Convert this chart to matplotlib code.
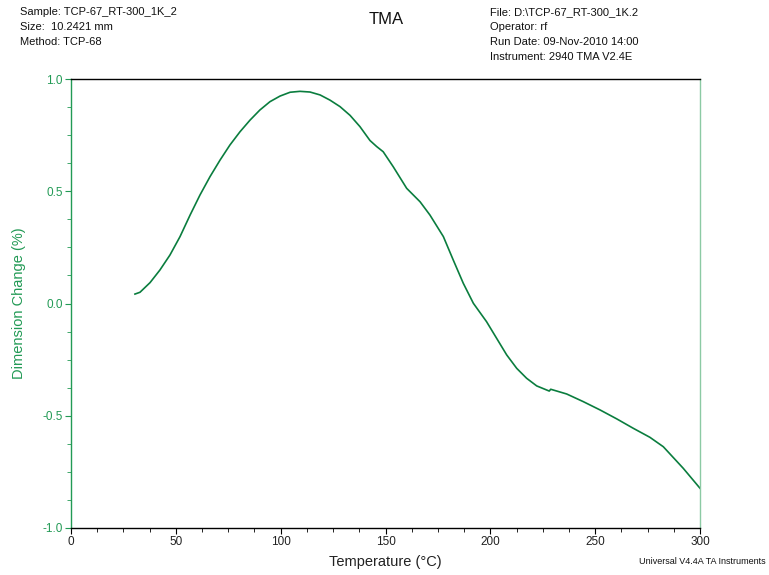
import matplotlib
matplotlib.use("Agg")
import matplotlib.pyplot as plt
from matplotlib.ticker import MultipleLocator

plt.rcParams['font.family'] = ['Liberation Sans', 'DejaVu Sans']

temperature = [30.5, 32.9, 37.7, 42.4, 47.2, 52.0, 56.8, 61.5, 66.3, 71.1, 75.8, 80.6,
               85.4, 90.1, 94.9, 99.7, 104.5, 109.2, 114.0, 118.8, 123.5, 128.3, 133.1,
               137.8, 142.6, 145.8, 148.9, 153.7, 160.1, 166.5, 171.2, 177.6, 182.3,
               187.1, 191.9, 198.2, 203.0, 207.8, 212.6, 217.3, 222.1, 228.1, 228.8,
               236.4, 244.3, 252.3, 260.3, 268.2, 276.1, 282.5, 292.0, 300.0]
dim_change = [0.042, 0.050, 0.093, 0.149, 0.216, 0.298, 0.394, 0.483, 0.565, 0.639, 0.706,
              0.765, 0.817, 0.862, 0.899, 0.924, 0.941, 0.945, 0.942, 0.929, 0.906, 0.877,
              0.838, 0.788, 0.726, 0.699, 0.676, 0.609, 0.513, 0.453, 0.394, 0.298, 0.194,
              0.090, 0.001, -0.081, -0.155, -0.229, -0.289, -0.333, -0.367, -0.390, -0.382,
              -0.403, -0.437, -0.474, -0.514, -0.556, -0.596, -0.638, -0.734, -0.823]

header_left = ["Sample: TCP-67_RT-300_1K_2", "Size:  10.2421 mm", "Method: TCP-68"]
header_right = ["File: D:\\TCP-67_RT-300_1K.2", "Operator: rf",
                "Run Date: 09-Nov-2010 14:00", "Instrument: 2940 TMA V2.4E"]

green_line = '#0a7d3e'
green_text = '#229a55'

W, H = 769, 575
fig = plt.figure(figsize=(W / 100, H / 100), dpi=100)
ax = fig.add_axes([71 / W, 1 - 528 / H, (700 - 71) / W, (528 - 79) / H])

ax.plot(temperature, dim_change, color=green_line, lw=1.2)

ax.set_xlim(0, 300)
ax.set_ylim(-1.0, 1.0)
ax.xaxis.set_major_locator(MultipleLocator(50))
ax.xaxis.set_minor_locator(MultipleLocator(12.5))
ax.yaxis.set_major_locator(MultipleLocator(0.5))
ax.yaxis.set_minor_locator(MultipleLocator(0.125))
ax.yaxis.set_major_formatter(matplotlib.ticker.FormatStrFormatter('%.1f'))

ax.spines['left'].set_color(green_text)
ax.spines['right'].set_color('#8ccaa4')
ax.spines['top'].set_color('black')
ax.spines['bottom'].set_color('black')
for s in ax.spines.values():
    s.set_linewidth(1.0)

ax.tick_params(axis='x', which='both', direction='out', colors='black', labelsize=8.5, pad=2)
ax.tick_params(axis='x', which='major', length=4)
ax.tick_params(axis='x', which='minor', length=3)
ax.tick_params(axis='y', which='both', direction='out', colors=green_text, labelsize=8.5, pad=2)
ax.tick_params(axis='y', which='major', length=4)
ax.tick_params(axis='y', which='minor', length=3)
ax.tick_params(axis='x', labelcolor='#222222')
ax.tick_params(axis='y', labelcolor=green_text)

ax.set_xlabel("Temperature (°C)", fontsize=10.5, color='#222222', labelpad=5)
ax.set_ylabel("Dimension Change (%)", fontsize=10.5, color=green_text, labelpad=12)

for i, t in enumerate(header_left):
    fig.text(20 / W, 1 - (12 + 15 * i) / H, t, fontsize=8, va='center', ha='left', color='#111111')
for i, t in enumerate(header_right):
    fig.text(490 / W, 1 - (12 + 15 * i) / H, t, fontsize=8, va='center', ha='left', color='#111111')
fig.text(386 / W, 1 - 20 / H, "TMA", fontsize=12, va='center', ha='center', color='#111111')
fig.text(766 / W, 1 - 561 / H, "Universal V4.4A TA Instruments", fontsize=6.5,
         va='center', ha='right', color='#111111')

fig.savefig("out.png", dpi=100)
